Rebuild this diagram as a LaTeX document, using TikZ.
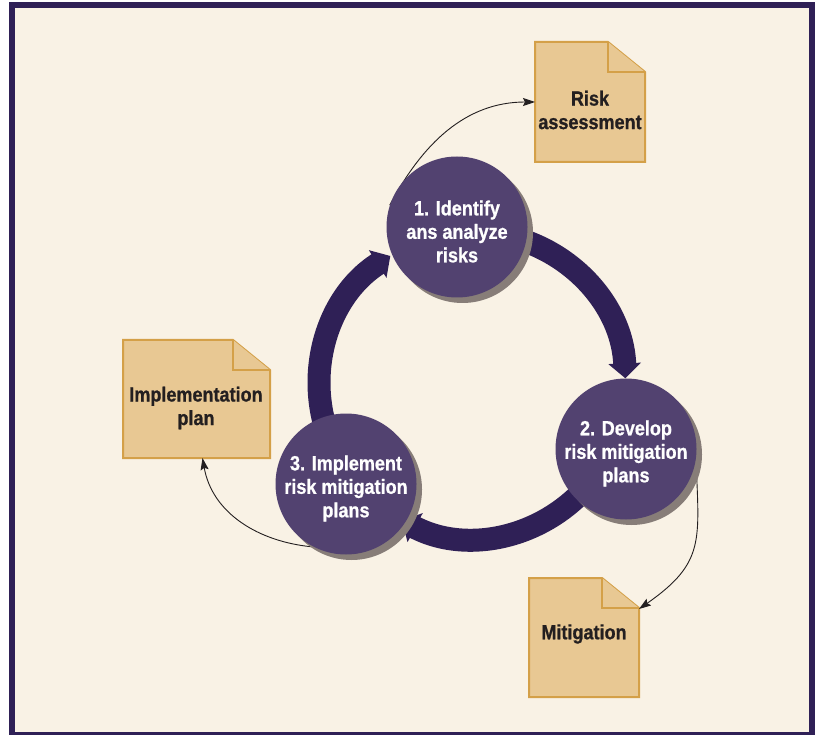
\documentclass[tikz,border=0pt]{standalone}
\usepackage{fontspec}
\newfontfamily\condbf[FakeStretch=0.88,FakeBold=0.8]{Liberation Sans}
\usetikzlibrary{arrows.meta,shadows}
\definecolor{framec}{RGB}{47,32,86}
\definecolor{arrowc}{RGB}{47,32,86}
\definecolor{circlec}{RGB}{82,66,112}
\definecolor{shadowc}{RGB}{135,125,120}
\definecolor{cream}{RGB}{249,242,229}
\definecolor{docfill}{RGB}{232,200,147}
\definecolor{docline}{RGB}{212,160,72}
\definecolor{textdark}{RGB}{35,31,32}
\pgfdeclarelayer{background}
\pgfdeclarelayer{connectors}
\pgfsetlayers{background,connectors,main}
\begin{document}
\begin{tikzpicture}[x=1pt,y=1pt,
  lbl/.style={font=\condbf\bfseries\fontsize{20.5}{23.5}\selectfont, align=center},
  steplbl/.style={lbl, text=white, inner sep=0pt, yshift=-4.5pt},
  stepcircle/.style={circle, fill=circlec, inner sep=0pt, minimum size=141pt,
    drop shadow={shadow xshift=5.5pt, shadow yshift=-5.5pt, fill=shadowc, opacity=1}},
  docbox/.style={rectangle, inner sep=0pt, outer sep=0pt},
  doctext/.style={lbl, text=textdark, inner sep=0pt},
  docedge/.style={draw=docline, fill=docfill, line width=2pt, line join=miter},
  bigarrow/.style={draw=arrowc, line width=23pt, -{Triangle[width=32pt,length=15pt]}},
  thinarrow/.style={draw=textdark, line width=0.9pt, -{Stealth[length=12pt,width=8pt,inset=2pt]}}
]
\useasboundingbox (0,0) rectangle (818,734);
\node[stepcircle, label={[steplbl]center:{1. Identify\\ans analyze\\risks}}] (c1) at (457,507) {};
\node[stepcircle, label={[steplbl]center:{2. Develop\\risk mitigation\\plans}}] (c2) at (626,285) {};
\node[stepcircle, label={[steplbl]center:{3. Implement\\risk mitigation\\plans}}] (c3) at (346,250) {};
\coordinate (T) at (472.5,349);
\node[docbox, minimum width=110pt, minimum height=120pt] (d1) at (590,632) {};
\node[docbox, minimum width=147pt, minimum height=118pt] (d2) at (196.5,335) {};
\node[docbox, minimum width=110pt, minimum height=119pt] (d3) at (584,96.5) {};
\node[doctext] (t1) at (590,624) {Risk\\assessment};
\node[doctext] (t2) at (196,326) {Implementation\\plan};
\node[doctext] (t3) at (584,100) {Mitigation};
\begin{pgfonlayer}{background}
  \fill[framec] (9,-4) rectangle (815,732);
  \fill[cream] (15,2) rectangle (809,726);
  \foreach \d in {d1,d2,d3}{
    \draw[docedge] (\d.north west) -- ([xshift=-37pt]\d.north east) -- ([yshift=-30pt]\d.north east) -- (\d.south east) -- (\d.south west) -- cycle;
    \draw[docedge] ([xshift=-37pt]\d.north east) |- ([yshift=-30pt]\d.north east);
  }
\end{pgfonlayer}
\begin{pgfonlayer}{connectors}
  \draw[bigarrow] ([shift={(90:153)}]T) arc[start angle=90,end angle=2.5,radius=153];
  \draw[bigarrow] ([shift={(-30:153)}]T) arc[start angle=-30,end angle=-117.5,radius=153];
  \draw[bigarrow] ([shift={(210:153)}]T) arc[start angle=210,end angle=122.5,radius=153];
  \draw[thinarrow] (c1.162) to[out=62,in=180] (d1.west);
  \draw[thinarrow] (c2.-8) to[out=-88,in=35,looseness=1.3] ([yshift=-31pt]d3.north east);
  \draw[thinarrow] (c3.243) to[out=175,in=-80] ([xshift=6pt]d2.south);
\end{pgfonlayer}
\end{tikzpicture}
\end{document}
